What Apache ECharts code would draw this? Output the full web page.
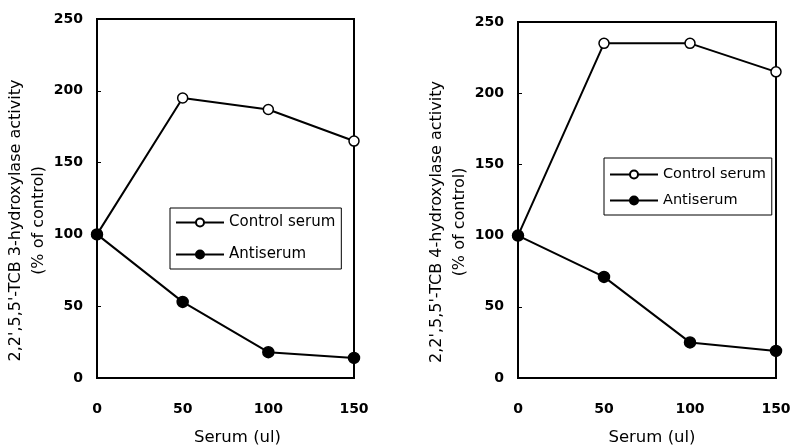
<!DOCTYPE html>
<html>
<head>
<meta charset="utf-8">
<script src="https://cdn.jsdelivr.net/npm/echarts@6/dist/echarts.min.js"></script>
<style>
html,body{margin:0;padding:0;background:#fff;}
#c{width:790px;height:446px;}
</style>
</head>
<body>
<div id="c"></div>
<script>
// Data
const serumDoses = [0, 50, 100, 150];
const yTicks = [0, 50, 100, 150, 200, 250];
const seriesNames = ['Control serum', 'Antiserum'];
const leftControl = [100, 195, 187, 165];
const leftAnti = [100, 53, 18, 14];
const rightControl = [100, 235, 235, 215];
const rightAnti = [100, 71, 25, 19];
const leftYName = "2,2',5,5'-TCB 3-hydroxylase activity\n(% of control)";
const rightYName = "2,2',5,5'-TCB 4-hydroxylase activity\n(% of control)";
const xName = 'Serum (ul)';

const FONT = 'DejaVu Sans';
const chart = echarts.init(document.getElementById('c'), null, {renderer: 'canvas'});

function pairs(xs, ys) { return xs.map((x, i) => [x, ys[i]]); }

function xAxis(gridIndex, pad) {
  return {
    type: 'value', gridIndex, min: serumDoses[0], max: serumDoses[serumDoses.length - 1], interval: 50,
    name: xName, nameLocation: 'middle', nameGap: 51,
    nameTextStyle: {fontFamily: FONT, fontSize: 16.5, color: '#000', padding: [0, 0, 0, pad]},
    axisLine: {show: true, lineStyle: {color: '#000', width: 2}},
    axisTick: {show: false},
    splitLine: {show: false},
    axisLabel: {fontFamily: FONT, fontSize: 14, fontWeight: 'bold', color: '#000', margin: 24}
  };
}
function yAxis(gridIndex, name) {
  return {
    type: 'value', gridIndex, min: yTicks[0], max: yTicks[yTicks.length - 1], interval: 50,
    name: name, nameLocation: 'middle', nameRotate: 90, nameGap: 45,
    nameTextStyle: {fontFamily: FONT, fontSize: 16, color: '#000', lineHeight: 23, align: 'center', padding: [0, 44, 0, 0]},
    axisLine: {show: true, lineStyle: {color: '#000', width: 2}},
    axisTick: {show: true, inside: true, length: 4, lineStyle: {color: '#000', width: 1}},
    splitLine: {show: false},
    axisLabel: {fontFamily: FONT, fontSize: 14, fontWeight: 'bold', color: '#000', margin: 14}
  };
}
function line(name, xi, yi, data, open) {
  return {
    type: 'line', name, xAxisIndex: xi, yAxisIndex: yi, data,
    symbol: 'circle', symbolSize: open ? 10 : 11,
    lineStyle: {color: '#000', width: 2},
    itemStyle: {color: open ? '#fff' : '#000', borderColor: '#000', borderWidth: 1.5},
    emphasis: {disabled: true},
    animation: false
  };
}
function legend(left, top, gap, fs, pad) {
  return {
    data: seriesNames, orient: 'vertical', left, top,
    borderColor: '#000', borderWidth: 1, padding: pad,
    itemWidth: 48, itemHeight: 10, itemGap: gap,
    textStyle: {fontFamily: FONT, fontSize: fs, color: '#000'},
    selectedMode: false
  };
}

chart.setOption({
  backgroundColor: '#fff',
  animation: false,
  grid: [
    {left: 97, right: 436, top: 19, bottom: 68, show: true, borderColor: '#000', borderWidth: 2, outerBoundsMode: 'none', containLabel: false},
    {left: 518, right: 14, top: 22, bottom: 68, show: true, borderColor: '#000', borderWidth: 2, outerBoundsMode: 'none', containLabel: false}
  ],
  xAxis: [xAxis(0, 24), xAxis(1, 10)],
  yAxis: [yAxis(0, leftYName), yAxis(1, rightYName)],
  legend: [legend(170, 208, 17, 15, [7, 6, 7, 5]), legend(604, 158, 11, 14.5, [9, 6, 7, 5])],
  series: [
    line(seriesNames[0], 0, 0, pairs(serumDoses, leftControl), true),
    line(seriesNames[1], 0, 0, pairs(serumDoses, leftAnti), false),
    line(seriesNames[0], 1, 1, pairs(serumDoses, rightControl), true),
    line(seriesNames[1], 1, 1, pairs(serumDoses, rightAnti), false)
  ]
});
</script>
</body>
</html>
